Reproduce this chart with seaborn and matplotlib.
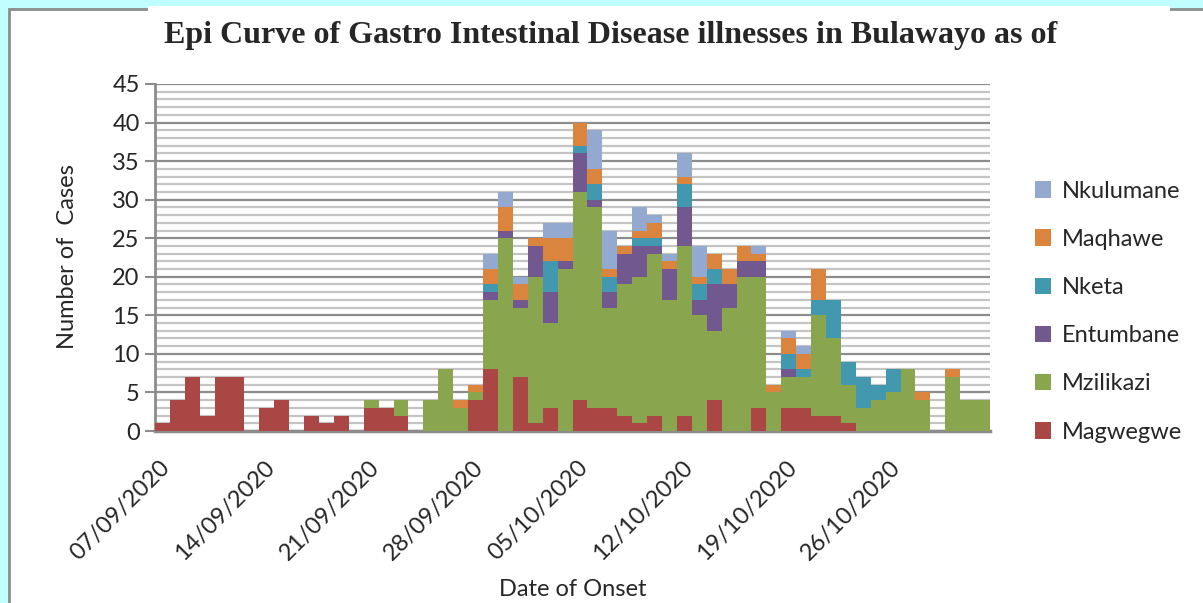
import numpy as np
import pandas as pd
import matplotlib
matplotlib.use("Agg")
import matplotlib.pyplot as plt
import seaborn as sns
from matplotlib.patches import Patch, Rectangle
from matplotlib.ticker import MultipleLocator

# ---------------- data ----------------
start_date = "2020-09-07"
magwegwe  = [1,4,7,2,7,7,0,3,4,0,2,1,2,0,3,3,2,0,0,0,0,4,8,0,7,1,3,0,4,3,3,2,1,2,0,2,0,4,0,0,3,0,3,3,2,2,1,0,0,0,0,0,0,0,0,0]
mzilikazi = [0,0,0,0,0,0,0,0,0,0,0,0,0,0,1,0,2,0,4,8,3,1,9,25,9,19,11,21,27,26,13,17,19,21,17,22,15,9,16,20,17,5,4,4,13,10,5,3,4,5,8,4,0,7,4,4]
entumbane = [0,0,0,0,0,0,0,0,0,0,0,0,0,0,0,0,0,0,0,0,0,0,1,1,1,4,4,1,5,1,2,4,4,1,4,5,2,6,3,2,2,0,1,0,0,0,0,0,0,0,0,0,0,0,0,0]
nketa     = [0,0,0,0,0,0,0,0,0,0,0,0,0,0,0,0,0,0,0,0,0,0,1,0,0,0,4,0,1,2,2,0,1,1,0,3,2,2,0,0,0,0,2,1,2,5,3,4,2,3,0,0,0,0,0,0]
maqhawe   = [0,0,0,0,0,0,0,0,0,0,0,0,0,0,0,0,0,0,0,0,1,1,2,3,2,1,3,3,3,2,1,1,1,2,1,1,1,2,2,2,1,1,2,2,4,0,0,0,0,0,0,1,0,1,0,0]
nkulumane = [0,0,0,0,0,0,0,0,0,0,0,0,0,0,0,0,0,0,0,0,0,0,2,2,1,0,2,2,0,5,5,0,3,1,1,3,4,0,0,0,1,0,1,1,0,0,0,0,0,0,0,0,0,0,0,0]
series_names = ["Magwegwe", "Mzilikazi", "Entumbane", "Nketa", "Maqhawe", "Nkulumane"]
series_values = [magwegwe, mzilikazi, entumbane, nketa, maqhawe, nkulumane]
series_colors = ["#AA4643", "#89A54E", "#71588F", "#4198AF", "#DB843D", "#93A9CF"]
tick_labels = ["07/09/2020", "14/09/2020", "21/09/2020", "28/09/2020",
               "05/10/2020", "12/10/2020", "19/10/2020", "26/10/2020"]
title = "Epi Curve of Gastro Intestinal Disease illnesses in Bulawayo as of"

# ---------------- build table ----------------
n_days = len(magwegwe)
rows = []
for name, vals in zip(series_names, series_values):
    for d, v in enumerate(vals):
        rows.append({"day": d, "count": v, "area": name})
df = pd.DataFrame(rows)
start = pd.Timestamp(start_date)
tick_pos = [(pd.to_datetime(t, dayfirst=True) - start).days for t in tick_labels]

# ---------------- figure ----------------
sns.set_theme(style="white")
plt.rcParams["font.family"] = ["Lato", "DejaVu Sans"]

W, H = 1203, 603
fig = plt.figure(figsize=(W / 100, H / 100), dpi=100)
fig.patch.set_facecolor("#BFFFFF")

# chart area (white with grey border)
fig.add_artist(Rectangle((9 / W, -0.05), 1.2, 1 - 9 / H + 0.05, transform=fig.transFigure,
                         facecolor="white", edgecolor="#8C8C8C", linewidth=2, zorder=-10))
# title white box
fig.add_artist(Rectangle((148 / W, 1 - 70 / H), (1170 - 148) / W, 64 / H, transform=fig.transFigure,
                         facecolor="white", edgecolor="none", zorder=-9))

ax = fig.add_axes([155 / W, 1 - 431 / H, (990 - 155) / W, (431 - 84) / H])
ax.set_facecolor("white")

hue_order = series_names[::-1]  # seaborn stacks last hue level at bottom
palette = dict(zip(series_names, series_colors))
sns.histplot(data=df, x="day", weights="count", hue="area", hue_order=hue_order,
             multiple="stack", discrete=True, shrink=1, palette=palette,
             alpha=1, linewidth=0, legend=False, ax=ax, zorder=3)

ax.set_xlim(-0.5, n_days - 0.5)
ax.set_ylim(0, 45)
ax.yaxis.set_major_locator(MultipleLocator(5))
ax.yaxis.set_minor_locator(MultipleLocator(1))
ax.grid(which="minor", axis="y", color="#C4C4C4", linewidth=1.6, zorder=0)
ax.grid(which="major", axis="y", color="#8C8C8C", linewidth=1.6, zorder=0)
ax.grid(axis="x", visible=False)
ax.set_axisbelow(True)

ax.set_xticks([p + 0.3 for p in tick_pos])
ax.set_xticklabels(tick_labels, rotation=45, ha="right", va="center",
                   rotation_mode="anchor", fontsize=17)
ax.tick_params(axis="x", length=0, pad=24)
ax.tick_params(axis="y", which="major", length=7, width=1.5, color="#8C8C8C",
               direction="out", labelsize=17, pad=4, left=True)
ax.tick_params(axis="y", which="minor", length=0)

for s in ["top", "right"]:
    ax.spines[s].set_visible(False)
ax.spines["left"].set_color("#8C8C8C")
ax.spines["left"].set_linewidth(2)
ax.spines["bottom"].set_color("#8C8C8C")
ax.spines["bottom"].set_linewidth(2.5)

ax.set_xlabel("Date of Onset", fontsize=17)
ax.set_ylabel("Number of  Cases", fontsize=17)
ax.xaxis.set_label_coords((573 - 155) / (990 - 155), -(590 - 431) / (431 - 84))
ax.yaxis.set_label_coords(-(155 - 67) / (990 - 155), (431 - 257) / (431 - 84))
ax.xaxis.label.set_va("center")
ax.yaxis.label.set_va("center")

fig.text(611 / W, 1 - 36 / H, title, ha="center", va="center",
         fontsize=23, fontweight="bold", family="Liberation Serif")

handles = [Patch(facecolor=c, edgecolor="none") for c in series_colors[::-1]]
fig.legend(handles, series_names[::-1], loc="upper left",
           bbox_to_anchor=(1023 / W, 1 - 169 / H), frameon=False, borderpad=0,
           fontsize=17, handlelength=0.7, handleheight=0.7, handletextpad=0.45,
           labelspacing=1.15)

fig.savefig("out.png", dpi=100, facecolor=fig.get_facecolor())
